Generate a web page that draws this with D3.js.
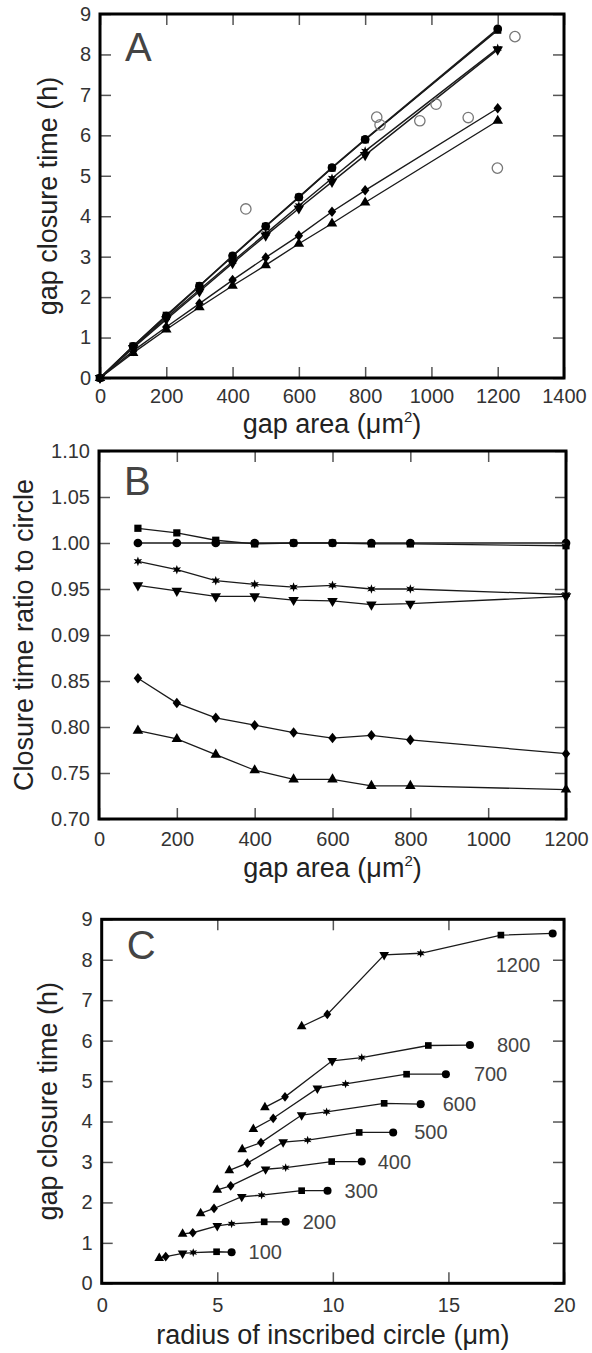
<!DOCTYPE html>
<html>
<head>
<meta charset="utf-8">
<script src="https://cdn.jsdelivr.net/npm/d3@7"></script>
<style>
  body { margin: 0; background: #fff; }
  text { font-family: "Liberation Sans", Arial, sans-serif; }
</style>
</head>
<body>
<div id="chart"></div>
<script>
// ---------- data ----------
// Panel A: gap closure time (h) vs gap area (um^2), one array per gap shape
const areaA = [0, 100, 200, 300, 400, 500, 600, 700, 800, 1200];
const aCircle = [0, 0.78, 1.53, 2.27, 3.02, 3.75, 4.47, 5.20, 5.90, 8.63];
const aSquare = [0, 0.79, 1.55, 2.28, 3.01, 3.75, 4.47, 5.19, 5.89, 8.60];
const aStar = [0, 0.76, 1.49, 2.18, 2.88, 3.57, 4.26, 4.94, 5.61, 8.15];
const aDownTri = [0, 0.74, 1.45, 2.14, 2.84, 3.52, 4.19, 4.85, 5.51, 8.12];
const aDiamond = [0, 0.67, 1.26, 1.84, 2.42, 2.98, 3.52, 4.11, 4.64, 6.67];
const aUpTri = [0, 0.62, 1.20, 1.75, 2.28, 2.79, 3.32, 3.82, 4.34, 6.36];
// open circles (experiments)
const expArea = [440, 835, 845, 965, 1014, 1111, 1199, 1252];
const expTime = [4.18, 6.45, 6.26, 6.36, 6.77, 6.44, 5.19, 8.44];

// Panel B: closure time ratio to circle
const areaB = [100, 200, 300, 400, 500, 600, 700, 800, 1200];
const bSquare = [1.016, 1.011, 1.003, 0.999, 1.000, 1.000, 0.999, 0.999, 0.997];
const bCircle = [1.000, 1.000, 1.000, 1.000, 1.000, 1.000, 1.000, 1.000, 1.000];
const bStar = [0.980, 0.971, 0.959, 0.955, 0.952, 0.954, 0.950, 0.950, 0.944];
const bDownTri = [0.954, 0.948, 0.942, 0.942, 0.938, 0.937, 0.933, 0.934, 0.942];
const bDiamond = [0.853, 0.826, 0.810, 0.802, 0.794, 0.788, 0.791, 0.786, 0.771];
const bUpTri = [0.796, 0.787, 0.770, 0.753, 0.743, 0.743, 0.736, 0.736, 0.732];
const bTicks = [0.70, 0.75, 0.80, 0.85, 0.90, 0.95, 1.00, 1.05, 1.10];
const bTickLabels = ["0.70", "0.75", "0.80", "0.85", "0.09", "0.95", "1.00", "1.05", "1.10"];

// Panel C: closure time vs radius of inscribed circle, one row per gap area
const areaC = [100, 200, 300, 400, 500, 600, 700, 800, 1200];
const rUpTri = [2.49, 3.50, 4.28, 5.00, 5.52, 6.08, 6.56, 7.06, 8.65];
const rDiamond = [2.77, 3.94, 4.86, 5.58, 6.30, 6.89, 7.42, 7.93, 9.76];
const rDownTri = [3.50, 5.00, 6.06, 7.09, 7.85, 8.65, 9.33, 9.97, 12.22];
const rStar = [3.96, 5.62, 6.92, 7.96, 8.91, 9.73, 10.55, 11.25, 13.80];
const rSquare = [4.97, 7.03, 8.65, 9.95, 11.14, 12.22, 13.19, 14.13, 17.27];
const rCircle = [5.62, 7.96, 9.77, 11.25, 12.61, 13.80, 14.89, 15.93, 19.51];
const tUpTri = [0.62, 1.22, 1.73, 2.31, 2.79, 3.31, 3.81, 4.35, 6.35];
const tDiamond = [0.66, 1.25, 1.85, 2.41, 2.97, 3.48, 4.08, 4.61, 6.65];
const tDownTri = [0.74, 1.42, 2.14, 2.82, 3.49, 4.16, 4.82, 5.50, 8.12];
const tStar = [0.76, 1.47, 2.18, 2.86, 3.54, 4.24, 4.93, 5.58, 8.16];
const tSquare = [0.78, 1.52, 2.29, 3.01, 3.73, 4.45, 5.17, 5.88, 8.61];
const tCircle = [0.77, 1.52, 2.29, 3.01, 3.73, 4.43, 5.17, 5.89, 8.65];

// ---------- layout ----------
const width = 592;
const height = 1353;
const labelDx = [17, 17, 17, 16, 21, 22, 28, 27, -57];
const labelDy = [0, 0, 0, 0, 0, 0, 0, 0, 32];

const svg = d3.select("#chart")
    .append("svg")
    .attr("width", width)
    .attr("height", height)
    .style("background-color", "white");

// marker shapes
const star6 = {
    draw(ctx, size) {
        const R = Math.sqrt(size) * 0.62, r = R * 0.45;
        for (let i = 0; i < 12; i++) {
            const a = i * Math.PI / 6 - Math.PI / 2;
            const rr = i % 2 ? r : R;
            if (i === 0) ctx.moveTo(rr * Math.cos(a), rr * Math.sin(a));
            else ctx.lineTo(rr * Math.cos(a), rr * Math.sin(a));
        }
        ctx.closePath();
    }
};
const diamond = {
    draw(ctx, size) {
        const h = Math.sqrt(size) * 0.68, w = h * 0.8;
        ctx.moveTo(0, -h); ctx.lineTo(w, 0); ctx.lineTo(0, h); ctx.lineTo(-w, 0);
        ctx.closePath();
    }
};
const downTri = {
    draw(ctx, size) {
        const y = Math.sqrt(size / (Math.sqrt(3) * 3));
        ctx.moveTo(0, 2 * y); ctx.lineTo(-Math.sqrt(3) * y, -y); ctx.lineTo(Math.sqrt(3) * y, -y);
        ctx.closePath();
    }
};
const shapes = {
    circle: [d3.symbolCircle, 60],
    square: [d3.symbolSquare, 52],
    star: [star6, 60],
    downTri: [downTri, 48],
    diamond: [diamond, 60],
    upTri: [d3.symbolTriangle, 48]
};

function drawFrame(g, x, y, cfg) {
    const [x0, x1] = x.range();
    const [y0, y1] = y.range();
    const tickStyle = sel => {
        sel.select(".domain").remove();
        sel.selectAll(".tick line").attr("stroke", "#555").attr("stroke-width", 1.5);
        sel.selectAll(".tick text").attr("fill", "#333").style("font-size", "20px");
    };
    g.append("g").attr("transform", `translate(0,${y0})`)
        .call(d3.axisBottom(x).tickValues(cfg.xTicks).tickSize(-11).tickPadding(cfg.xPad).tickFormat(cfg.xFmt || d3.format("d")))
        .call(tickStyle);
    g.append("g").attr("transform", `translate(0,${y1})`)
        .call(d3.axisTop(x).tickValues(cfg.xTicks).tickSize(-11).tickFormat(""))
        .call(tickStyle);
    g.append("g").attr("transform", `translate(${x0},0)`)
        .call(d3.axisLeft(y).tickValues(cfg.yTicks).tickSize(-11).tickPadding(9).tickFormat(cfg.yFmt || d3.format("d")))
        .call(tickStyle);
    g.append("g").attr("transform", `translate(${x1},0)`)
        .call(d3.axisRight(y).tickValues(cfg.yTicks).tickSize(-11).tickFormat(""))
        .call(tickStyle);
    g.append("rect")
        .attr("x", x0).attr("y", y1)
        .attr("width", x1 - x0).attr("height", y0 - y1)
        .attr("fill", "none").attr("stroke", "#000").attr("stroke-width", 3);
    g.append("text")
        .attr("x", x0 + 25).attr("y", y1 + cfg.letterDy)
        .attr("fill", "#444").style("font-size", "40px")
        .text(cfg.letter);
    g.append("text")
        .attr("transform", `translate(${cfg.yLabelX},${(y0 + y1) / 2}) rotate(-90)`)
        .attr("text-anchor", "middle")
        .attr("fill", "#222").style("font-size", "27px")
        .text(cfg.yLabel);
    const xl = g.append("text")
        .attr("x", (x0 + x1) / 2).attr("y", cfg.xLabelY)
        .attr("text-anchor", "middle")
        .attr("fill", "#222").style("font-size", "27px");
    if (cfg.sup) {
        xl.append("tspan").text("gap area (\u03bcm");
        xl.append("tspan").attr("dy", -11).style("font-size", "15px").text("2");
        xl.append("tspan").attr("dy", 11).text(")");
    } else {
        xl.text(cfg.xLabel);
    }
}

function drawSeries(g, pts, shape, lw) {
    const [sym, size] = shapes[shape];
    g.append("path")
        .datum(pts)
        .attr("fill", "none")
        .attr("stroke", "#1a1a1a")
        .attr("stroke-width", lw)
        .attr("d", d3.line().x(d => d[0]).y(d => d[1]));
    g.selectAll(null)
        .data(pts)
        .enter()
        .append("path")
        .attr("transform", d => `translate(${d[0]},${d[1]})`)
        .attr("d", d3.symbol(sym, size))
        .attr("fill", "#000");
}

// ---------- Panel A ----------
const xA = d3.scaleLinear().domain([0, 1400]).range([100, 564]);
const yA = d3.scaleLinear().domain([0, 9]).range([378, 14]);
const gA = svg.append("g");
const seriesA = [
    [aUpTri, "upTri"], [aDiamond, "diamond"], [aDownTri, "downTri"],
    [aStar, "star"], [aSquare, "square"], [aCircle, "circle"]
];
seriesA.forEach(([vals, shape]) => {
    drawSeries(gA, areaA.map((a, i) => [xA(a), yA(vals[i])]), shape, shape === "circle" ? 1.8 : 1.4);
});
gA.selectAll(".exp")
    .data(expArea.map((a, i) => [a, expTime[i]]))
    .enter()
    .append("circle")
    .attr("class", "exp")
    .attr("cx", d => xA(d[0]))
    .attr("cy", d => yA(d[1]))
    .attr("r", 5.2)
    .attr("fill", "none")
    .attr("stroke", "#777")
    .attr("stroke-width", 1.3);
drawFrame(gA, xA, yA, {
    xTicks: d3.range(0, 1401, 200), yTicks: d3.range(0, 10, 1),
    xPad: 11, letter: "A", letterDy: 47,
    yLabel: "gap closure time (h)", yLabelX: 57, xLabelY: 433, sup: true
});

// ---------- Panel B ----------
const xB = d3.scaleLinear().domain([0, 1200]).range([99, 566]);
const yB = d3.scaleLinear().domain([0.70, 1.10]).range([819, 451]);
const gB = svg.append("g");
const seriesB = [
    [bUpTri, "upTri"], [bDiamond, "diamond"], [bDownTri, "downTri"],
    [bStar, "star"], [bSquare, "square"], [bCircle, "circle"]
];
seriesB.forEach(([vals, shape]) => {
    drawSeries(gB, areaB.map((a, i) => [xB(a), yB(vals[i])]), shape, 1.3);
});
drawFrame(gB, xB, yB, {
    xTicks: d3.range(0, 1201, 200), yTicks: bTicks,
    yFmt: (d, i) => bTickLabels[i],
    xPad: 13, letter: "B", letterDy: 44,
    yLabel: "Closure time ratio to circle", yLabelX: 33, xLabelY: 877, sup: true
});

// ---------- Panel C ----------
const xC = d3.scaleLinear().domain([0, 20]).range([101.7, 564]);
const yC = d3.scaleLinear().domain([0, 9]).range([1283.3, 919.3]);
const gC = svg.append("g");
const shapeOrder = ["upTri", "diamond", "downTri", "star", "square", "circle"];
const radiusCols = [rUpTri, rDiamond, rDownTri, rStar, rSquare, rCircle];
const timeCols = [tUpTri, tDiamond, tDownTri, tStar, tSquare, tCircle];
areaC.forEach((area, row) => {
    const pts = radiusCols.map((col, k) => [xC(col[row]), yC(timeCols[k][row])]);
    gC.append("path")
        .datum(pts)
        .attr("fill", "none")
        .attr("stroke", "#1a1a1a")
        .attr("stroke-width", 1.3)
        .attr("d", d3.line());
    pts.forEach((p, k) => {
        const [sym, size] = shapes[shapeOrder[k]];
        gC.append("path")
            .attr("transform", `translate(${p[0]},${p[1]})`)
            .attr("d", d3.symbol(sym, size * 0.85))
            .attr("fill", "#000");
    });
    const last = pts[pts.length - 1];
    gC.append("text")
        .attr("x", last[0] + labelDx[row])
        .attr("y", last[1] + labelDy[row])
        .attr("dy", "0.35em")
        .attr("fill", "#444")
        .style("font-size", "20px")
        .text(area);
});
drawFrame(gC, xC, yC, {
    xTicks: [0, 5, 10, 15, 20], yTicks: d3.range(0, 10, 1),
    xPad: 15, letter: "C", letterDy: 40,
    yLabel: "gap closure time (h)", yLabelX: 57, xLabelY: 1344,
    xLabel: "radius of inscribed circle (\u03bcm)"
});
</script>
</body>
</html>
